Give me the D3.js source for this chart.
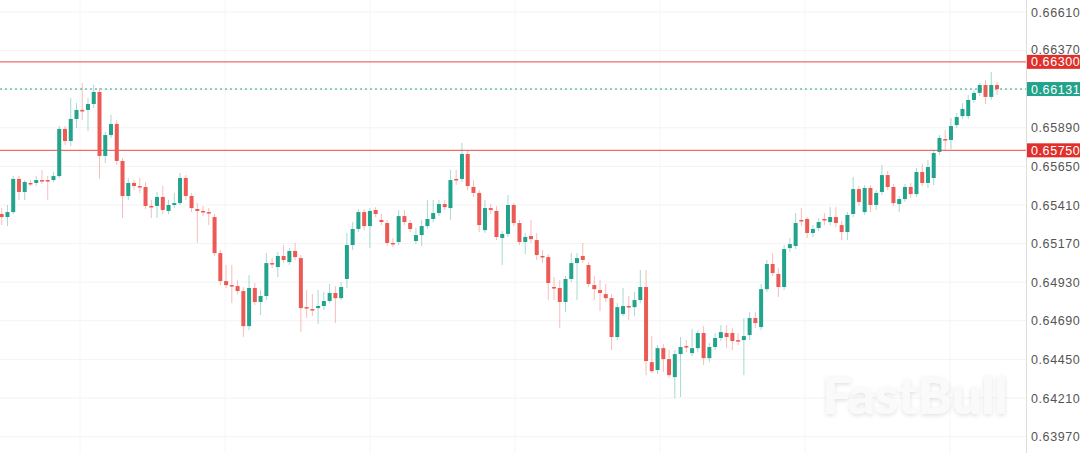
<!DOCTYPE html>
<html><head><meta charset="utf-8">
<script src="https://cdn.jsdelivr.net/npm/d3@7"></script>
<style>body{margin:0;background:#fff}svg{display:block}</style>
</head><body>
<script>
// OHLC in units of 1e-5 price (0.xxxxx)
const opens=[65354,65335,65366,65572,65491,65547,65547,65565,65565,65565,65590,65883,65808,65945,66001,66001,66038,66113,65715,65845,65914,65684,65466,65547,65528,65522,65404,65404,65460,65373,65410,65422,65578,65466,65385,65373,65366,65335,65111,64937,64912,64906,64875,64657,64894,64807,64844,65049,65024,65093,65055,65124,65080,64775,64763,64769,64782,64813,64863,64831,64950,65161,65261,65366,65279,65379,65317,65298,65174,65180,65341,65298,65186,65223,65279,65323,65360,65416,65391,65572,65572,65727,65522,65485,65254,65391,65373,65205,65230,65410,65298,65180,65217,65192,65093,65086,64900,64894,64807,64950,65049,65093,65037,64912,64881,64856,64831,64589,64732,64782,64775,64819,64900,64433,64384,64520,64452,64340,64483,64533,64489,64520,64614,64458,64527,64583,64614,64614,64570,64570,64601,64707,64651,64887,65043,64981,64900,65142,65155,65317,65323,65236,65267,65323,65304,65335,65285,65242,65354,65509,65366,65516,65410,65491,65596,65522,65416,65447,65522,65478,65615,65547,65578,65740,65820,65814,65907,65963,65963,66063,66107,66156,66082,66156];
const highs=[65391,65410,65590,65590,65565,65565,65590,65628,65590,65615,65901,65901,66075,66044,66169,66075,66156,66138,65864,65970,65939,65702,65578,65565,65578,65553,65441,65491,65528,65441,65485,65609,65596,65485,65422,65404,65391,65354,65130,65037,65037,64943,64900,64974,64925,64881,65111,65080,65118,65161,65142,65174,65099,64881,64856,64881,64869,64919,64906,64931,65236,65304,65385,65385,65391,65397,65354,65317,65205,65379,65379,65317,65267,65317,65441,65441,65441,65441,65628,65628,65796,65752,65565,65503,65441,65416,65404,65248,65472,65422,65317,65236,65317,65236,65130,65105,64962,64943,64968,65111,65111,65174,65055,64968,64943,64919,64856,64800,64894,64844,64869,65006,65006,64595,64539,64545,64508,64508,64589,64570,64639,64632,64657,64552,64614,64663,64663,64645,64614,64707,64744,64744,64919,65068,65111,65018,65161,65205,65360,65391,65335,65285,65329,65360,65397,65397,65310,65366,65584,65528,65534,65534,65503,65659,65621,65541,65466,65541,65547,65640,65665,65690,65752,65845,65876,65951,65982,66044,66094,66125,66169,66187,66237,66175];
const lows=[65285,65279,65354,65441,65441,65528,65528,65541,65441,65553,65578,65783,65777,65889,65939,65870,66013,65572,65671,65827,65659,65329,65441,65503,65485,65385,65329,65329,65354,65354,65391,65410,65441,65366,65174,65341,65285,65093,64912,64894,64800,64856,64589,64632,64788,64726,64819,65018,64962,65049,65037,65068,64620,64707,64719,64670,64757,64800,64676,64819,64894,65130,65242,65254,65142,65335,65285,65155,65149,65161,65285,65242,65167,65155,65261,65304,65341,65379,65317,65534,65553,65503,65460,65242,65236,65354,65192,65037,65211,65279,65161,65105,65174,65068,65049,64819,64819,64645,64744,64931,64819,65049,64900,64819,64751,64807,64508,64570,64719,64695,64719,64800,64352,64365,64359,64371,64334,64209,64216,64496,64471,64496,64415,64433,64508,64564,64520,64508,64539,64352,64570,64645,64632,64869,64968,64838,64881,65118,65136,65279,65205,65211,65248,65285,65285,65273,65192,65192,65335,65404,65348,65366,65379,65472,65503,65404,65366,65429,65453,65460,65528,65516,65534,65721,65752,65758,65889,65945,65945,66044,66088,66038,66063,66094];
const closes=[65335,65366,65572,65491,65553,65541,65565,65559,65559,65590,65883,65808,65945,66001,65995,66038,66113,65715,65845,65914,65684,65466,65547,65528,65522,65404,65397,65460,65379,65410,65422,65578,65466,65391,65373,65366,65360,65111,64937,64912,64906,64875,64657,64894,64807,64844,65049,65043,65093,65068,65124,65086,64769,64769,64757,64782,64813,64863,64831,64900,65161,65261,65366,65279,65373,65354,65304,65174,65167,65341,65304,65261,65223,65279,65323,65360,65416,65397,65565,65565,65727,65528,65485,65285,65391,65379,65211,65230,65410,65298,65180,65211,65198,65099,65086,64925,64894,64807,64950,65049,65080,65068,64919,64887,64863,64831,64589,64775,64782,64775,64819,64900,64440,64377,64520,64452,64352,64483,64527,64527,64520,64614,64458,64527,64583,64620,64589,64564,64564,64595,64707,64676,64887,65043,64987,64900,65136,65167,65298,65310,65236,65261,65304,65317,65335,65298,65242,65348,65509,65429,65516,65410,65485,65596,65522,65422,65447,65522,65478,65615,65547,65646,65733,65827,65814,65901,65957,66007,66063,66107,66156,66082,66156,66131];
const tickValues=[0.66610,0.66370,0.65890,0.65650,0.65410,0.65170,0.64930,0.64690,0.64450,0.64210,0.63970];
const levels=[0.66300,0.65750];
const lastPrice=0.66131;

const W=1080,H=453,plotR=1026;
const UP="#22a38c",DN="#ec5a55",LVL="#ec6f6b";
const data=opens.map((o,i)=>({i,o:o/1e5,h:highs[i]/1e5,l:lows[i]/1e5,c:closes[i]/1e5}));
const svg=d3.select("body").append("svg").attr("width",W).attr("height",H);
const y=d3.scaleLinear().domain([0.6397,0.6661]).range([436.6,12]);
const x=d3.scaleLinear().domain([0,data.length-1]).range([1.7,997]);

svg.append("g").selectAll("line").data(tickValues.concat([0.66130])).join("line")
 .attr("x1",0).attr("x2",plotR).attr("y1",d=>y(d)).attr("y2",d=>y(d)).attr("stroke","#f3f3f3");
svg.append("g").selectAll("line").data([80,225,370,515,660,805,950]).join("line")
 .attr("x1",d=>d).attr("x2",d=>d).attr("y1",0).attr("y2",H).attr("stroke","#f6f6f6");

const defs=svg.append("defs");
const f=defs.append("filter").attr("id","sh").attr("x","-10%").attr("y","-20%").attr("width","120%").attr("height","150%");
f.append("feDropShadow").attr("dx",0).attr("dy",1.5).attr("stdDeviation",2).attr("flood-color","#000").attr("flood-opacity",0.12);
svg.append("text").attr("x",915).attr("y",414).attr("text-anchor","middle")
 .attr("font-family","Lato, 'Open Sans', sans-serif").attr("font-weight",900).attr("font-size",52)
 .attr("fill","#fafafa").attr("filter","url(#sh)").text("FastBull");

svg.append("line").attr("x1",plotR+0.5).attr("x2",plotR+0.5).attr("y1",0).attr("y2",H).attr("stroke","#dcdcdc");

svg.append("g").selectAll("line").data(levels).join("line")
 .attr("x1",0).attr("x2",plotR).attr("y1",d=>y(d)).attr("y2",d=>y(d)).attr("stroke",LVL).attr("stroke-width",1.2);
svg.append("line").attr("x1",0).attr("x2",plotR).attr("y1",y(lastPrice)).attr("y2",y(lastPrice))
 .attr("stroke",UP).attr("stroke-dasharray","2,3").attr("stroke-width",1);

const bw=4;
const g=svg.append("g");
g.selectAll("line").data(data).join("line")
 .attr("x1",d=>x(d.i)).attr("x2",d=>x(d.i)).attr("y1",d=>y(d.h)).attr("y2",d=>y(d.l))
 .attr("stroke",d=>d.c>=d.o?UP:DN).attr("stroke-opacity",0.4).attr("stroke-width",1);
g.selectAll("rect").data(data).join("rect")
 .attr("x",d=>x(d.i)-bw/2).attr("width",bw)
 .attr("y",d=>y(Math.max(d.o,d.c))).attr("height",d=>Math.max(1.5,Math.abs(y(d.o)-y(d.c))))
 .attr("fill",d=>d.c>=d.o?UP:DN);

const fmt=d3.format(".5f");
svg.append("g").selectAll("text").data(tickValues).join("text")
 .attr("x",1031).attr("y",d=>y(d)+(d===0.66370?3:4.5)).attr("font-family","'Liberation Sans', Arial, sans-serif")
 .attr("font-size",12.5).attr("letter-spacing",0.6).attr("fill","#555").text(fmt);
const tags=[...levels.map(v=>({v,c:"#e0302b"})),{v:lastPrice,c:"#22a38c"}];
const tg=svg.append("g").selectAll("g").data(tags).join("g");
tg.append("rect").attr("x",1027).attr("width",53).attr("y",d=>y(d.v)-7).attr("height",14).attr("fill",d=>d.c);
tg.append("text").attr("x",1031).attr("y",d=>y(d.v)+4.5).attr("font-family","'Liberation Sans', Arial, sans-serif")
 .attr("font-size",12.5).attr("letter-spacing",0.6).attr("fill","#fff").text(d=>fmt(d.v));
</script>
</body></html>
